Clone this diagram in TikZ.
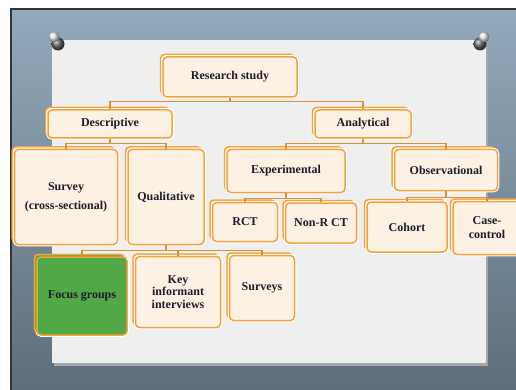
\documentclass[tikz,border=0pt]{standalone}
\usepackage{fontspec}
\setmainfont{Liberation Serif}
\usetikzlibrary{shadows}
\definecolor{boxorange}{HTML}{F4A33C}
\definecolor{boxfill}{HTML}{FDF1E3}
\definecolor{linkbrown}{HTML}{D8933A}
\definecolor{greenfill}{HTML}{52A846}
\definecolor{boardtop}{HTML}{93AABC}
\definecolor{boardbot}{HTML}{5C6C79}
\definecolor{paper}{HTML}{EFEFEF}
\definecolor{ink}{HTML}{1C1C2C}

\begin{document}
\begin{tikzpicture}[x=1pt,y=-1pt,
  box/.style={draw=boxorange, line width=1.5pt, rounded corners=4pt, fill=boxfill,
    general shadow={shadow xshift=-2.5pt, shadow yshift=2.5pt, draw=boxorange, fill=boxfill, line width=1.5pt},
    preaction={draw=white, line width=3.5pt},
    inner sep=0pt, align=center, text=ink, font=\fontsize{12}{14}\selectfont\bfseries},
  link/.style={draw=linkbrown, line width=1.3pt}]
\useasboundingbox (0,0) rectangle (516,390);

% board and pinned sheet
\draw[line width=2pt, draw=black!80, top color=boardtop, bottom color=boardbot] (11,9) rectangle (530,400);
\fill[black!35] (54,42) rectangle (488,366);
\fill[paper] (52,40) rectangle (486,363);

% pins
\shade[ball color=black!60] (58,44) circle (6.5);
\shade[ball color=white!92!black] (54,37) circle (5.5);
\shade[ball color=black!60] (480,44) circle (6.5);
\shade[ball color=white!92!black] (484,37) circle (5.5);

% boxes
\node[box, minimum width=134pt, minimum height=40pt] (rs) at (230,77) {Research study};
\node[box, minimum width=124pt, minimum height=28pt] (desc) at (110,124) {Descriptive};
\node[box, minimum width=96pt, minimum height=28pt] (anal) at (363,124) {Analytical};
\node[box, minimum width=103pt, minimum height=95pt] (surv) at (66,197) {Survey\\[5pt](cross-sectional)};
\node[box, minimum width=76pt, minimum height=95pt] (qual) at (166,197) {Qualitative};
\node[box, minimum width=118pt, minimum height=43pt] (expe) at (286,171) {Experimental};
\node[box, minimum width=103pt, minimum height=41pt] (obse) at (446,170) {Observational};
\node[box, minimum width=65pt, minimum height=39pt] (rct) at (245,222) {RCT};
\node[box, minimum width=71pt, minimum height=40pt] (nrct) at (321,223) {Non-R CT};
\node[box, minimum width=80pt, minimum height=50pt] (coho) at (407,227) {Cohort};
\node[box, minimum width=68pt, minimum height=53pt] (case) at (487,228) {Case-\\control};
\node[box, fill=greenfill, general shadow={shadow xshift=-2.5pt, shadow yshift=2.5pt, draw=boxorange, fill=greenfill, line width=1.5pt},
  minimum width=90pt, minimum height=78pt] (focus) at (82,296) {Focus groups};
\node[box, minimum width=85pt, minimum height=71pt, font=\fontsize{12}{12.5}\selectfont\bfseries] (keyi) at (178,292) {Key\\informant\\interviews};
\node[box, minimum width=65pt, minimum height=65pt] (srvs) at (262,288) {Surveys};

% connectors
\draw[link] (rs.south) -- ++(0,4) -| (desc.north);
\draw[link] (rs.south) -- ++(0,4) -| (anal.north);
\draw[link] (desc.south) -- ++(0,5) -| (surv.north);
\draw[link] (desc.south) -- ++(0,5) -| (qual.north);
\draw[link] (anal.south) -- ++(0,5) -| (expe.north);
\draw[link] (anal.south) -- ++(0,5) -| (obse.north);
\draw[link] (expe.south) -- ++(0,5) -| (rct.north);
\draw[link] (expe.south) -- ++(0,5) -| (nrct.north);
\draw[link] (obse.south) -- ++(0,6) -| (coho.north);
\draw[link] (obse.south) -- ++(0,6) -| (case.north);
\draw[link] (qual.south) -- ++(0,5) -| (focus.north);
\draw[link] (qual.south) -- ++(0,5) -| (keyi.north);
\draw[link] (qual.south) -- ++(0,5) -| (srvs.north);
\end{tikzpicture}
\end{document}
